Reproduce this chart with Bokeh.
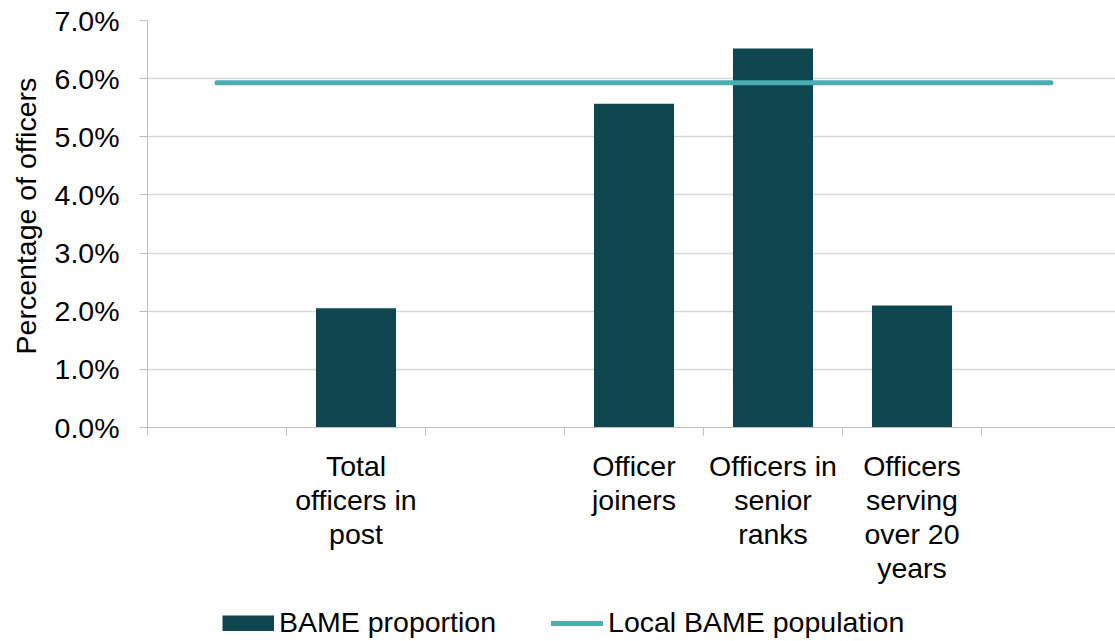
from bokeh.plotting import figure
from bokeh.layouts import column
from bokeh.models import (ColumnDataSource, Range1d, FixedTicker, NumeralTickFormatter,
                          Legend, LegendItem)
from bokeh.embed import file_html
from bokeh.resources import INLINE

# ---- data ----
categories = ["", "Total officers in post", "", "Officer joiners",
              "Officers in senior ranks", "Officers serving over 20 years", ""]
tick_labels = ["", "Total\nofficers in\npost", "", "Officer\njoiners",
               "Officers in\nsenior\nranks", "Officers\nserving\nover 20\nyears", ""]
bame_proportion = [float("nan"), 0.0205, float("nan"), 0.0557, 0.0652, 0.0210, float("nan")]
local_bame_population = [0.0593] * 7
y_ticks = [0.0, 0.01, 0.02, 0.03, 0.04, 0.05, 0.06, 0.07]
series_names = ["BAME proportion", "Local BAME population"]

BAR = "#0F4751"
LINE = "#4BADB2"
FONT = "Liberation Sans"
FS = "28.5px"

n = len(categories)
centers = [i + 0.5 for i in range(n)]
bounds = [i for i in range(n + 1)]

src = ColumnDataSource(dict(x=centers, bar=bame_proportion, line=local_bame_population))

p = figure(width=1115, height=600, output_backend="svg", toolbar_location=None,
           x_range=Range1d(0, 968 / 139), y_range=Range1d(0, 0.07),
           min_border_left=147, min_border_right=0, min_border_top=20,
           min_border_bottom=173)
p.outline_line_color = None
p.background_fill_color = "white"
p.border_fill_color = "white"

p.vbar(x="x", top="bar", width=0.576, source=src, fill_color=BAR, line_color=None)
p.line(x="x", y="line", source=src, line_color=LINE, line_width=5, line_cap="round")

# x axis
xa = p.xaxis[0]
xa.ticker = FixedTicker(ticks=centers, minor_ticks=bounds)
xa.major_label_overrides = {c: t for c, t in zip(centers, tick_labels)}
xa.major_tick_line_color = None
xa.minor_tick_out = 8
xa.minor_tick_in = 0
xa.minor_tick_line_color = "#BFBFBF"
xa.axis_line_color = "#BFBFBF"
xa.major_label_text_font = FONT
xa.major_label_text_font_size = FS
xa.major_label_text_line_height = 1.07
xa.major_label_text_color = "black"
xa.major_label_standoff = 14
p.xgrid.grid_line_color = None

# y axis
ya = p.yaxis[0]
ya.ticker = FixedTicker(ticks=y_ticks)
ya.formatter = NumeralTickFormatter(format="0.0%")
ya.axis_line_color = "#BFBFBF"
ya.major_tick_line_color = "#BFBFBF"
ya.major_tick_out = 8
ya.major_tick_in = 0
ya.minor_tick_line_color = None
ya.major_label_text_font = FONT
ya.major_label_text_font_size = FS
ya.major_label_text_color = "black"
ya.major_label_standoff = 20
ya.axis_label = "\u00a0\u00a0Percentage of officers"
ya.axis_label_text_font = FONT
ya.axis_label_text_font_size = FS
ya.axis_label_text_font_style = "normal"
ya.axis_label_text_color = "black"
ya.axis_label_standoff = 10
p.ygrid.grid_line_color = "#D9D9D9"
p.ygrid.grid_line_width = 1.5

# ---- legend strip below the chart ----
lg = figure(width=1115, height=41, output_backend="svg", toolbar_location=None,
            x_range=Range1d(0, 1), y_range=Range1d(0, 1),
            x_axis_location=None, y_axis_location=None,
            min_border=0)
lg.outline_line_color = None
lg.grid.visible = False
nan = float("nan")
dummy = ColumnDataSource(dict(x=[nan], y=[nan]))
r1 = lg.line(x="x", y="y", source=dummy, line_color=BAR, line_width=16, line_cap="butt")
r2 = lg.line(x="x", y="y", source=dummy, line_color=LINE, line_width=5, line_cap="round")
legend = Legend(items=[LegendItem(label=series_names[0], renderers=[r1]),
                       LegendItem(label=series_names[1], renderers=[r2])],
                orientation="horizontal", location=(75, 2))
legend.glyph_width = 52
legend.glyph_height = 16
legend.label_standoff = 5
legend.spacing = 55
legend.padding = 0
legend.margin = 0
legend.border_line_color = None
legend.background_fill_alpha = 0
legend.label_text_font = FONT
legend.label_text_font_size = FS
legend.label_text_color = "black"
lg.add_layout(legend, "center")

layout = column(p, lg, spacing=0)
open("out.html", "w").write(file_html(layout, INLINE))
